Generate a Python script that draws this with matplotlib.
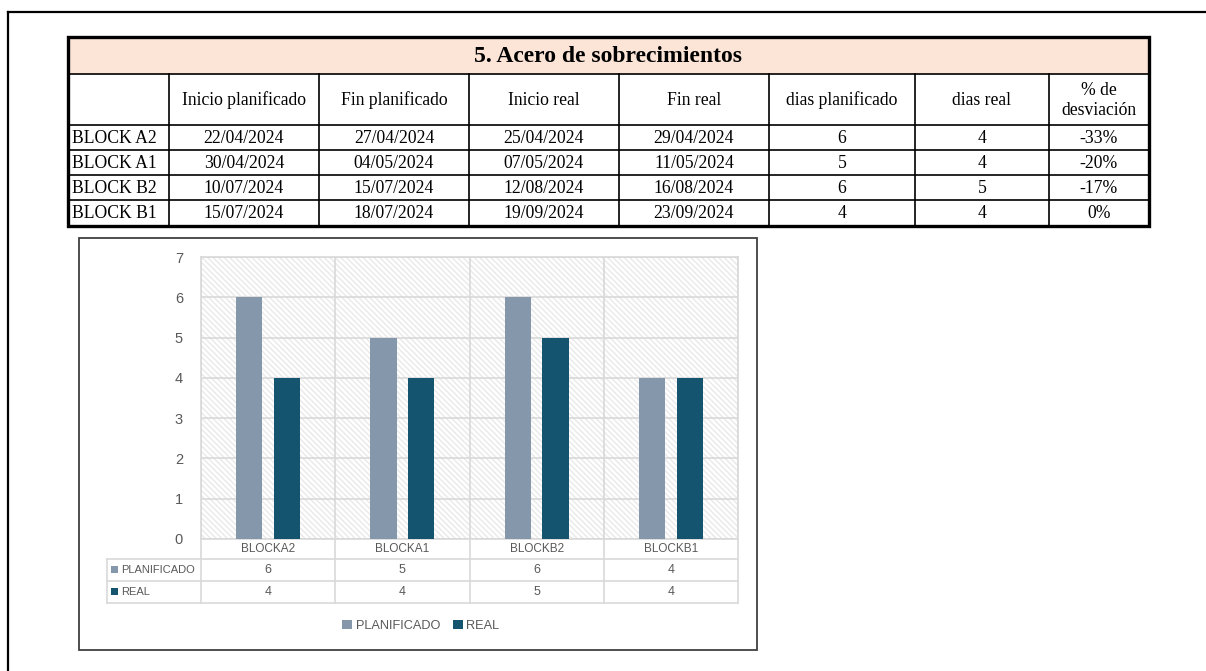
import matplotlib
matplotlib.use("Agg")

import matplotlib.pyplot as plt
import matplotlib.transforms as mtransforms
from matplotlib.patches import Rectangle

# ---------- Data ----------
blocks = ["BLOCK A2", "BLOCK A1", "BLOCK B2", "BLOCK B1"]
inicio_plan = ["22/04/2024", "30/04/2024", "10/07/2024", "15/07/2024"]
fin_plan = ["27/04/2024", "04/05/2024", "15/07/2024", "18/07/2024"]
inicio_real = ["25/04/2024", "07/05/2024", "12/08/2024", "19/09/2024"]
fin_real = ["29/04/2024", "11/05/2024", "16/08/2024", "23/09/2024"]
dias_plan = [6, 5, 6, 4]
dias_real = [4, 4, 5, 4]
desviacion = ["-33%", "-20%", "-17%", "0%"]

headers = ["", "Inicio planificado", "Fin planificado", "Inicio real",
           "Fin real", "dias planificado", "dias real", "% de\ndesviación"]
table_title = "5. Acero de sobrecimientos"
chart_labels = ["BLOCKA2", "BLOCKA1", "BLOCKB2", "BLOCKB1"]
series_names = ["PLANIFICADO", "REAL"]

# ---------- Style ----------
W, H = 1206, 671
C_PLAN = "#8598AB"
C_REAL = "#14546F"
GRID = "#D9D9D9"
TXT = "#595959"
SERIF = ["Liberation Serif", "DejaVu Serif"]
SANS = ["Liberation Sans", "DejaVu Sans"]

plt.rcParams["hatch.linewidth"] = 1.0

fig = plt.figure(figsize=(W / 100, H / 100), dpi=100)

# page-sized axes in pixel coordinates
page = fig.add_axes([0, 0, 1, 1])
page.set_xlim(0, W)
page.set_ylim(H, 0)
page.axis("off")

# page frame
page.plot([8, W], [12, 12], color="black", lw=1.6)
page.plot([8, 8], [12, H], color="black", lw=1.6)

# ---------- Top table ----------
col_x = [68, 169, 319, 469, 619, 769, 915, 1049, 1149]
row_y = [37, 74, 125, 150, 175, 200, 226]

page.add_patch(Rectangle((col_x[0], row_y[0]), col_x[-1] - col_x[0],
                         row_y[1] - row_y[0], facecolor="#FCE4D6", edgecolor="none"))
page.text((col_x[0] + col_x[-1]) / 2, (row_y[0] + row_y[1]) / 2 + 1, table_title,
          ha="center", va="center", fontsize=17, fontweight="bold", family=SERIF)

# inner lines
for y in row_y[1:-1]:
    page.plot([col_x[0], col_x[-1]], [y, y], color="black", lw=1.2)
for x in col_x[1:-1]:
    page.plot([x, x], [row_y[1], row_y[-1]], color="black", lw=1.2)
# outer border
page.add_patch(Rectangle((col_x[0], row_y[0]), col_x[-1] - col_x[0],
                         row_y[-1] - row_y[0], facecolor="none",
                         edgecolor="black", lw=2.4))

for j, h in enumerate(headers):
    if h:
        page.text((col_x[j] + col_x[j + 1]) / 2, (row_y[1] + row_y[2]) / 2 + 1, h,
                  ha="center", va="center", fontsize=12.7, family=SERIF,
                  linespacing=1.2)

columns = [inicio_plan, fin_plan, inicio_real, fin_real, dias_plan, dias_real, desviacion]
for i, name in enumerate(blocks):
    yc = (row_y[i + 2] + row_y[i + 3]) / 2 + 1
    page.text(col_x[0] + 4, yc, name, ha="left", va="center",
              fontsize=12.7, family=SERIF)
    for j, col in enumerate(columns):
        page.text((col_x[j + 1] + col_x[j + 2]) / 2, yc, str(col[i]),
                  ha="center", va="center", fontsize=12.7, family=SERIF)

# ---------- Chart ----------
page.add_patch(Rectangle((79, 238), 678, 412, facecolor="white",
                         edgecolor="#404040", lw=1.3, zorder=0))

px0, px1, py0, py1 = 201, 738, 257, 539
ax = fig.add_axes([px0 / W, 1 - py1 / H, (px1 - px0) / W, (py1 - py0) / H])
ax.add_patch(Rectangle((0, 0), 1, 1, transform=ax.transAxes, facecolor="white",
                       edgecolor="#E9E9E9", hatch="\\" * 6, lw=0, zorder=0))

x = list(range(len(blocks)))
bw = 0.195
off = 0.14
bars_plan = ax.bar([i - off for i in x], dias_plan, bw, color=C_PLAN, zorder=3)
bars_real = ax.bar([i + off for i in x], dias_real, bw, color=C_REAL, zorder=3)

ax.set_xlim(-0.5, len(blocks) - 0.5)
ax.set_ylim(0, 7)
ax.set_yticks(range(0, 8))
ax.set_xticks([])
ax.set_xticks([i + 0.5 for i in range(-1, len(blocks))], minor=True)
ax.tick_params(axis="x", which="both", length=0, labelbottom=False)
ax.tick_params(axis="y", length=0, pad=13, labelcolor=TXT, labelsize=10.5)
for lab in ax.get_yticklabels():
    lab.set_family(SANS)
ax.grid(axis="y", color=GRID, lw=1.2, zorder=1)
ax.grid(axis="x", which="minor", color=GRID, lw=1.2, zorder=1)
for s in ax.spines.values():
    s.set_color(GRID)
    s.set_linewidth(1.2)
ax.set_axisbelow(True)

# data table under the chart
trans = mtransforms.blended_transform_factory(ax.transData, page.transData)
t_top, t_r1, t_r2, t_bot = 539, 559, 581, 603
for b in [i + 0.5 for i in range(-1, len(blocks))]:
    page.plot([b, b], [t_top, t_bot], color=GRID, lw=1.2, transform=trans)
for y in [t_r1, t_r2, t_bot]:
    page.plot([107, px1], [y, y], color=GRID, lw=1.2)
page.plot([107, 107], [t_r1, t_bot], color=GRID, lw=1.2)

for i, lab in enumerate(chart_labels):
    page.text(i, (t_top + t_r1) / 2, lab, transform=trans, ha="center", va="center",
              fontsize=8.5, color=TXT, family=SANS)
    page.text(i, (t_r1 + t_r2) / 2, str(dias_plan[i]), transform=trans,
              ha="center", va="center", fontsize=9, color=TXT, family=SANS)
    page.text(i, (t_r2 + t_bot) / 2, str(dias_real[i]), transform=trans,
              ha="center", va="center", fontsize=9, color=TXT, family=SANS)

for k, (name, c) in enumerate(zip(series_names, [C_PLAN, C_REAL])):
    yc = (t_r1 + t_r2) / 2 if k == 0 else (t_r2 + t_bot) / 2
    page.add_patch(Rectangle((111, yc - 4), 7, 7, facecolor=c, edgecolor="none"))
    page.text(121, yc, name, ha="left", va="center", fontsize=8,
              color=TXT, family=SANS)

leg = fig.legend([bars_plan, bars_real], series_names, loc="center",
                 bbox_to_anchor=(421 / W, 1 - 626 / H), ncol=2, frameon=False,
                 handlelength=0.75, handleheight=0.75, handletextpad=0.3,
                 columnspacing=1.0, prop={"family": SANS, "size": 9.2})
for t in leg.get_texts():
    t.set_color(TXT)

fig.savefig("out.png", dpi=100)
